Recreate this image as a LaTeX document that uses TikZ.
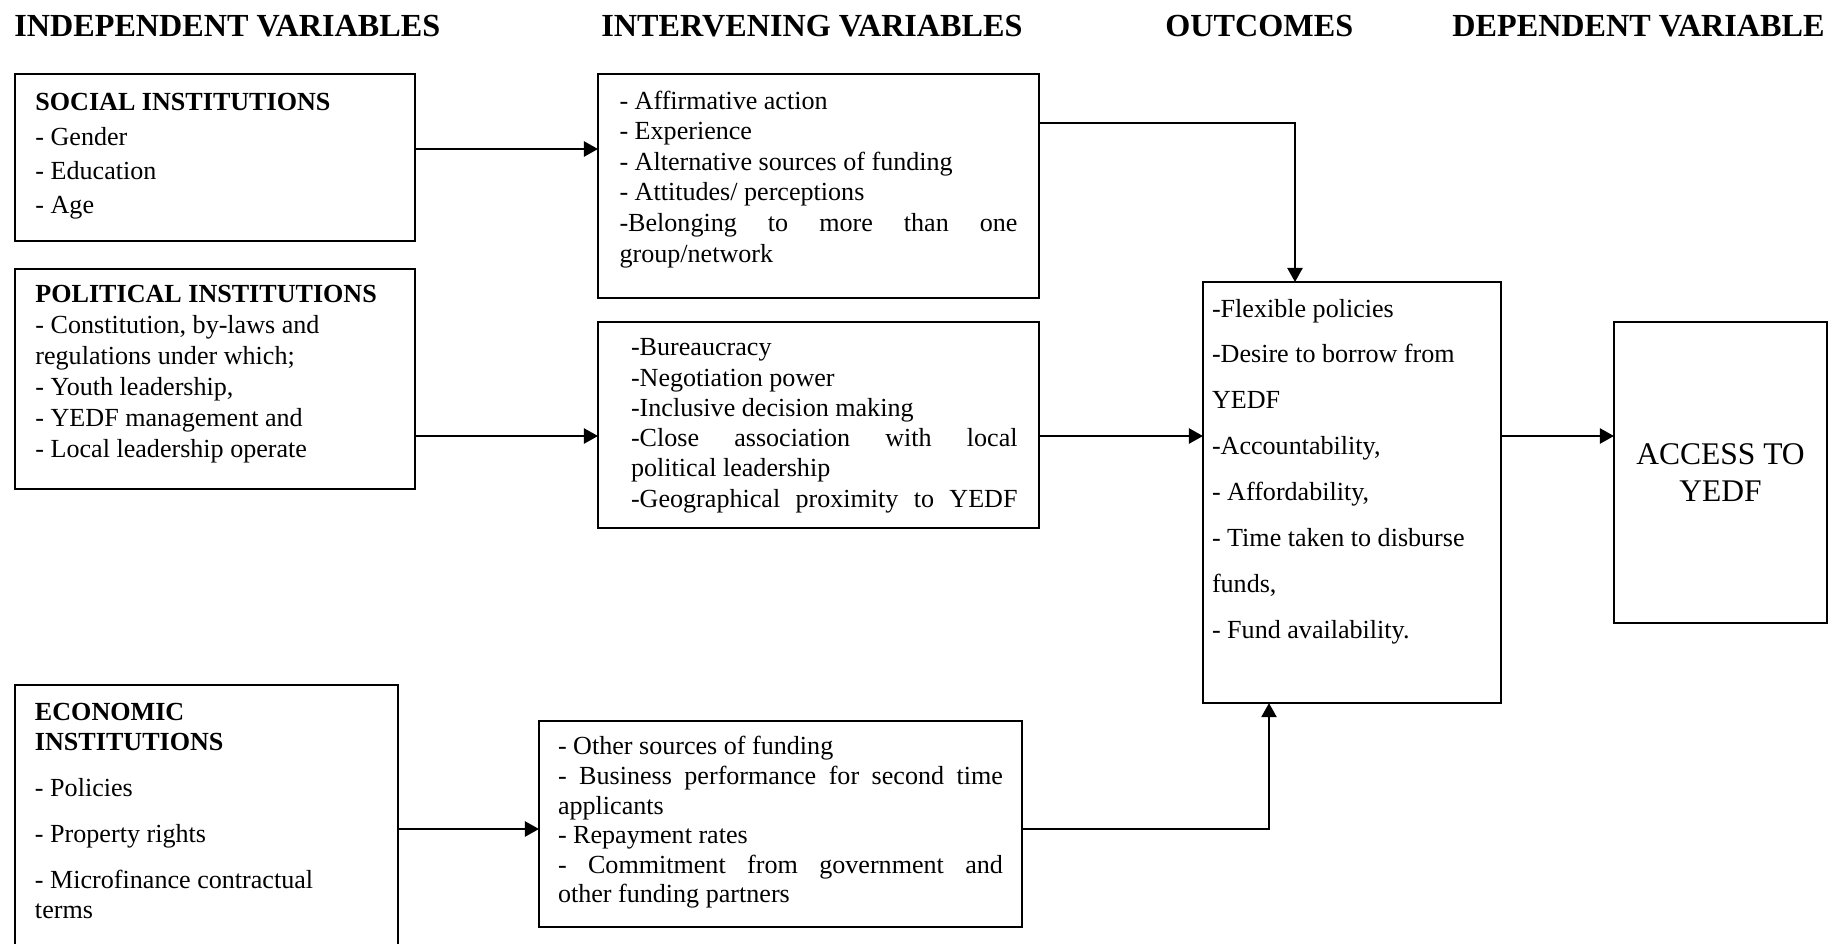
\documentclass[tikz,border=0pt]{standalone}
\usepackage{fontspec}
\setmainfont{Liberation Serif}
\usetikzlibrary{arrows.meta}
\tolerance=9999
\hbadness=10000

\begin{document}
\begin{tikzpicture}[
				x=0.46pt, y=-0.46pt,
				head/.style={anchor=base west, inner sep=0pt, font=\fontsize{14.8}{17}\selectfont\bfseries},
				varbox/.style={rectangle, draw, line width=0.9pt, outer sep=0pt, anchor=north west, inner ysep=0pt, align=justify},
				link/.style={-{Triangle[length=6.5pt,width=7pt]}, line width=0.9pt}
				]
				\useasboundingbox (0,0) rectangle (1830,943);
				
				% column titles
				\node[head] (hindep) at (14,36) {INDEPENDENT VARIABLES};
				\node[head] (hinter) at (601,36) {INTERVENING VARIABLES};
				\node[head] (hout) at (1165,36) {OUTCOMES};
				\node[head] (hdep) at (1452,36) {DEPENDENT VARIABLE};
				
				% independent variables
				\node[varbox, text width=165pt, inner xsep=9.4pt, text height=16.9pt, text depth=59.9pt, font=\fontsize{12}{15.8}\selectfont] (social) at (15,74) {\textbf{SOCIAL INSTITUTIONS}\\- Gender\\- Education\\- Age};
				\node[varbox, text width=165pt, inner xsep=9.4pt, text height=15.6pt, text depth=85.6pt, font=\fontsize{12}{14.2}\selectfont] (political) at (15,269) {\textbf{POLITICAL INSTITUTIONS}\\- Constitution, by-laws and\\regulations under which;\\- Youth leadership,\\- YEDF management and\\- Local leadership operate};
				\node[varbox, text width=157.8pt, inner xsep=9.2pt, text height=16.1pt, text depth=115pt, font=\fontsize{12}{13.8}\selectfont] (economic) at (15,685) {\textbf{ECONOMIC}\\\textbf{INSTITUTIONS}\\[7.4pt]- Policies\\[7.4pt]- Property rights\\[7.4pt]- Microfinance contractual\\terms};
				
				% intervening variables
				\node[varbox, text width=183.1pt, inner xsep=9.9pt, text height=16.1pt, text depth=86.9pt, font=\fontsize{12}{14.1}\selectfont] (inter1) at (598,74) {- Affirmative action\\- Experience\\- Alternative sources of funding\\- Attitudes/ perceptions\\-Belonging to more than one\linebreak group/network};
				\node[varbox, text width=183.1pt, inner xsep=9.9pt, text height=15.6pt, text depth=79.1pt, font=\fontsize{12}{13.9}\selectfont] (inter2) at (598,322) {\leftskip=5.3pt -Bureaucracy\\-Negotiation power\\-Inclusive decision making\\-Close association with local\linebreak political leadership\\-Geographical proximity to YEDF{\parfillskip=0pt\par}};
				\node[varbox, text width=204.7pt, inner xsep=8.74pt, text height=15.6pt, text depth=79.1pt, font=\fontsize{12}{13.6}\selectfont] (inter3) at (539,721) {- Other sources of funding\\- Business performance for second time\linebreak applicants\\- Repayment rates\\- Commitment from government and\linebreak other funding partners};
				
				% outcomes and dependent variable
				\node[varbox, text width=128.8pt, inner xsep=4.14pt, text height=16.1pt, text depth=177.6pt, font=\fontsize{12}{21.1}\selectfont] (outcomes) at (1203,282) {-Flexible policies\\-Desire to borrow from\\YEDF\\-Accountability,\\- Affordability,\\- Time taken to disburse\\funds,\\- Fund availability.};
				\node[rectangle, draw, line width=0.9pt, outer sep=0pt, minimum width=98pt, minimum height=138.5pt, align=center, font=\fontsize{14.5}{17}\selectfont] (access) at (1720.5,472.5) {ACCESS TO\\YEDF};
				
				\draw[link] (social.east |- 0,149) -- (inter1.west |- 0,149);
				\draw[link] (political.east |- 0,436) -- (inter2.west |- 0,436);
				\draw[link] (economic.east |- 0,829) -- (inter3.west |- 0,829);
				\draw[link] (inter1.east |- 0,123) -| (outcomes.north -| 1295,0);
				\draw[link] (inter2.east |- 0,436) -- (outcomes.west |- 0,436);
				\draw[link] (inter3.east |- 0,829) -| (outcomes.south -| 1269,0);
				\draw[link] (outcomes.east |- 0,436) -- (access.west |- 0,436);
			\end{tikzpicture}
\end{document}
